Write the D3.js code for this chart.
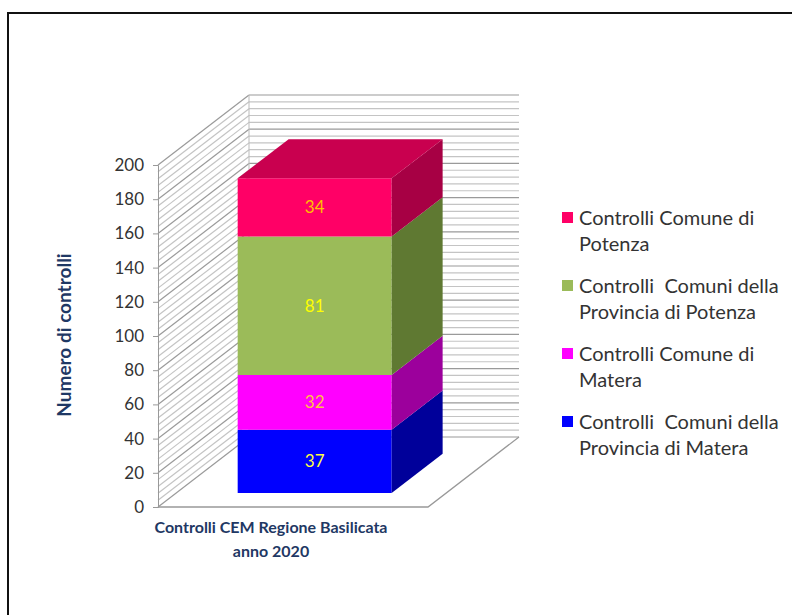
<!DOCTYPE html>
<html>
<head>
<meta charset="utf-8">
<script src="https://cdn.jsdelivr.net/npm/d3@7"></script>
<style>
  body { margin: 0; background: #fff; }
  svg { display: block; font-family: Lato, "Open Sans", sans-serif; }
</style>
</head>
<body>
<svg id="chart" width="792" height="615"></svg>
<script>
// data
const categories = ['Controlli CEM Regione Basilicata|anno 2020'];
const series = [
  'Controlli  Comuni della|Provincia di Matera',
  'Controlli Comune di|Matera',
  'Controlli  Comuni della|Provincia di Potenza',
  'Controlli Comune di|Potenza'
];
const values = [37, 32, 81, 34];
const yTicks = [0, 20, 40, 60, 80, 100, 120, 140, 160, 180, 200];

// styles (same order as series)
const frontCol = ['#0000ff', '#ff00ff', '#9bbb59', '#ff0066'];
const sideCol  = ['#00009a', '#9c009c', '#5f7932', '#a70044'];
const topCol   = '#c9004f';
const labelCol = ['#ffff40', '#ffc040', '#ffff00', '#ffc000'];

const svg = d3.select('#chart');

// frame
svg.append('path')
  .attr('d', 'M8,615 V13 H792')
  .attr('fill', 'none').attr('stroke', '#111').attr('stroke-width', 2);

// 3d geometry: floor front from x 158..428, depth offset (91,-70)
const x = d3.scaleBand().domain(categories).range([158, 428]).padding(0.2736).align(0.53);
const y = d3.scaleLinear().domain([0, 200]).range([507, 165]);
const dX = d3.scaleLinear().domain([0, 1]).range([0, 91]);
const dY = d3.scaleLinear().domain([0, 1]).range([0, -70]);
const P = (px, v, d) => [px + dX(d), y(v) + dY(d)];
const line = d3.line();

const minor = d3.range(0, 201, 4);
const g = svg.append('g');

// side wall grid
g.selectAll('.side').data(minor).enter().append('path')
  .attr('d', v => line([P(158, v, 0), P(158, v, 1)]))
  .attr('stroke', v => v % 20 === 0 ? '#9a9a9a' : '#c4c4c4')
  .attr('stroke-width', 1.2).attr('fill', 'none');

// back wall grid
g.selectAll('.back').data(minor).enter().append('path')
  .attr('d', v => line([P(158, v, 1), P(428, v, 1)]))
  .attr('stroke', v => v % 20 === 0 ? '#9a9a9a' : '#c4c4c4')
  .attr('stroke-width', 1.2).attr('fill', 'none');

// corner edge and floor
g.append('path').attr('d', line([P(158, 0, 1), P(158, 200, 1)]))
  .attr('stroke', '#bbb').attr('fill', 'none');
g.append('path').attr('d', line([P(158, 0, 0), P(428, 0, 0), P(428, 0, 1)]))
  .attr('stroke', '#999').attr('stroke-width', 1.3).attr('fill', 'none');

// y axis
const axis = svg.append('g').attr('transform', 'translate(158,0)')
  .call(d3.axisLeft(y).tickValues(yTicks).tickSize(5).tickPadding(9));
axis.select('.domain').attr('stroke', '#999');
axis.selectAll('.tick line').attr('stroke', '#999');
axis.selectAll('.tick text').attr('font-family', 'Lato, sans-serif')
  .attr('font-size', 17).attr('fill', '#333');

// stacked 3d bar
const f1 = 0.2, f2 = 0.76;
const bx0 = x(categories[0]), bx1 = bx0 + x.bandwidth();
let acc = 0;
const stack = values.map((v, i) => { const s = { i, v, y0: acc, y1: acc + v }; acc += v; return s; });

const bars = svg.append('g');
bars.selectAll('.front').data(stack).enter().append('path')
  .attr('d', s => line([P(bx0, s.y0, f1), P(bx1, s.y0, f1), P(bx1, s.y1, f1), P(bx0, s.y1, f1)]) + 'Z')
  .attr('fill', s => frontCol[s.i]);
bars.selectAll('.sidef').data(stack).enter().append('path')
  .attr('d', s => line([P(bx1, s.y0, f1), P(bx1, s.y0, f2), P(bx1, s.y1, f2), P(bx1, s.y1, f1)]) + 'Z')
  .attr('fill', s => sideCol[s.i]);
const stackTop = stack[stack.length - 1].y1;
bars.append('path')
  .attr('d', line([P(bx0, stackTop, f1), P(bx1, stackTop, f1), P(bx1, stackTop, f2), P(bx0, stackTop, f2)]) + 'Z')
  .attr('fill', topCol);

bars.selectAll('.lbl').data(stack).enter().append('text')
  .attr('x', s => P((bx0 + bx1) / 2, 0, f1)[0])
  .attr('y', s => P(0, (s.y0 + s.y1) / 2, f1)[1])
  .attr('dy', '0.35em').attr('text-anchor', 'middle')
  .attr('font-size', 17).attr('fill', s => labelCol[s.i])
  .text(s => s.v);

// axis titles
svg.append('text')
  .attr('transform', 'translate(71,335) rotate(-90)')
  .attr('text-anchor', 'middle').attr('font-weight', 'bold')
  .attr('font-size', 19).attr('fill', '#1f3864')
  .text('Numero di controlli');

const xl = svg.append('text').attr('text-anchor', 'middle')
  .attr('font-weight', 'bold').attr('font-size', 16).attr('fill', '#1f3864');
categories[0].split('|').forEach((t, k) => {
  xl.append('tspan').attr('x', 271).attr('y', 533 + k * 24).text(t);
});

// legend (top entry first)
const legend = svg.append('g').attr('transform', 'translate(562,0)');
const order = d3.range(series.length).reverse();
order.forEach((si, k) => {
  const yy = 218 + k * 68;
  legend.append('rect').attr('x', 0).attr('y', yy - 6).attr('width', 11).attr('height', 11)
    .attr('fill', frontCol[si]);
  const t = legend.append('text').attr('font-size', 20).attr('fill', '#333');
  series[si].split('|').forEach((s, j) => {
    t.append('tspan').attr('x', 17).attr('y', yy + 7 + j * 26)
      .attr('xml:space', 'preserve').text(s);
  });
});
</script>
</body>
</html>
